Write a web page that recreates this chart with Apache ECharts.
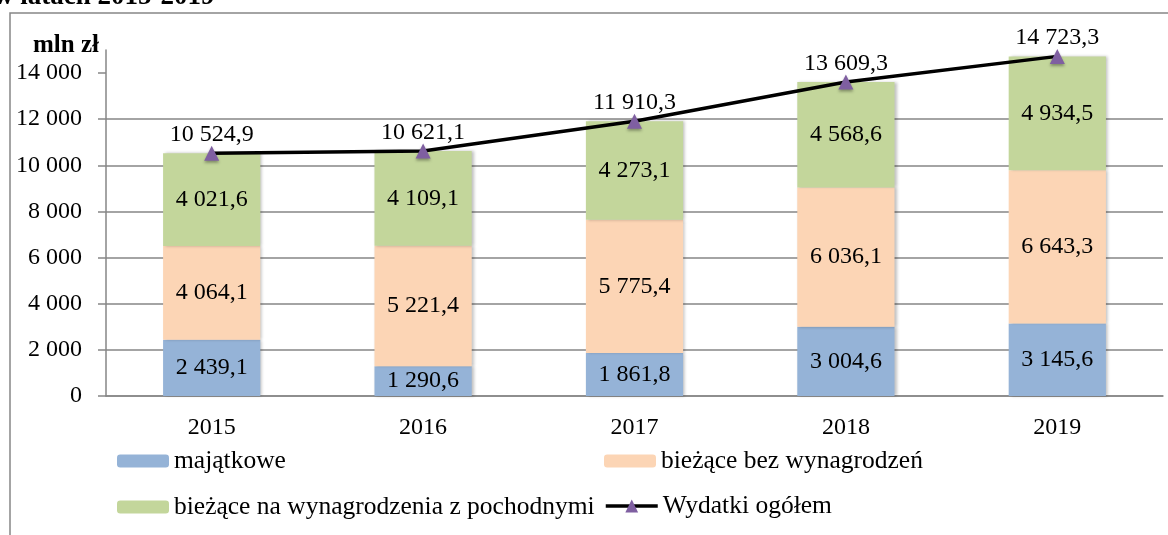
<!DOCTYPE html>
<html>
<head>
<meta charset="utf-8">
<script src="https://cdn.jsdelivr.net/npm/echarts@6/dist/echarts.min.js"></script>
<style>
  html, body { margin: 0; padding: 0; background: #fff; }
  #chart { width: 1168px; height: 535px; }
</style>
</head>
<body>
<div id="chart"></div>
<script>
// dane z wykresu (mln zł)
const lata = ['2015', '2016', '2017', '2018', '2019']
const majatkowe = [2439.1, 1290.6, 1861.8, 3004.6, 3145.6]
const biezaceBez = [4064.1, 5221.4, 5775.4, 6036.1, 6643.3]
const biezaceWyn = [4021.6, 4109.1, 4273.1, 4568.6, 4934.5]
const ogolem = [10524.9, 10621.1, 11910.3, 13609.3, 14723.3]
const yTicks = [0, 2000, 4000, 6000, 8000, 10000, 12000, 14000]

const FONT = 'Garamond, "Liberation Serif", "DejaVu Serif", serif'
const GREY = '#868686'

// 10524.9 -> "10 524,9"
function fmt(v, dec) {
  const s = v.toFixed(dec)
  const parts = s.split('.')
  const int = parts[0].replace(/\B(?=(\d{3})+(?!\d))/g, ' ')
  return parts.length > 1 ? int + ',' + parts[1] : int
}

const barShadow = {
  shadowBlur: 3,
  shadowColor: 'rgba(0,0,0,0.25)',
  shadowOffsetX: 2,
  shadowOffsetY: 0
}

const barLabel = {
  show: true,
  position: 'inside',
  color: '#000',
  fontFamily: FONT,
  fontSize: 24,
  formatter: p => fmt(p.value, 1)
}

const legendBase = {
  padding: 0,
  itemWidth: 52,
  itemHeight: 13,
  textStyle: { fontFamily: FONT, fontSize: 25.5, color: '#000' }
}

const chart = echarts.init(document.getElementById('chart'))
chart.setOption({
  animation: false,
  textStyle: { fontFamily: FONT },
  graphic: [
    {
      type: 'rect',
      shape: { x: 10, y: 13, width: 1200, height: 560 },
      style: { fill: 'none', stroke: GREY, lineWidth: 1.5 },
      silent: true
    },
    {
      type: 'text',
      style: {
        x: -6, y: -3,
        text: 'w latach 2015-2019',
        font: 'bold 27px ' + FONT,
        fill: '#000',
        verticalAlign: 'middle'
      }
    },
    {
      type: 'text',
      style: {
        x: 33, y: 46,
        text: 'mln zł',
        font: 'bold 25px ' + FONT,
        fill: '#000',
        verticalAlign: 'middle'
      }
    }
  ],
  legend: [
    Object.assign({ data: ['majątkowe'], left: 117, top: 448 }, legendBase),
    Object.assign({ data: ['bieżące bez wynagrodzeń'], left: 604, top: 448 }, legendBase),
    Object.assign({ data: ['bieżące na wynagrodzenia z pochodnymi'], left: 117, top: 494 }, legendBase),
    Object.assign({}, legendBase, {
      data: ['Wydatki ogółem'],
      left: 604,
      top: 493,
      itemHeight: 16,
      lineStyle: { width: 3.5, color: '#000' }
    })
  ],
  grid: {
    left: 106,
    right: 5,
    top: 50,
    bottom: 139
  },
  xAxis: {
    type: 'category',
    data: lata,
    axisLine: { lineStyle: { color: GREY, width: 1.5 } },
    axisTick: { length: 7, lineStyle: { color: GREY, width: 1.5 } },
    axisLabel: { color: '#000', fontSize: 24, fontFamily: FONT, margin: 20 }
  },
  yAxis: {
    type: 'value',
    min: 0,
    max: 15000,
    interval: 2000,
    axisLine: { show: true, lineStyle: { color: GREY, width: 1.5 } },
    axisTick: {
      show: true,
      length: 8,
      customValues: yTicks,
      lineStyle: { color: GREY, width: 1.5 }
    },
    axisLabel: {
      color: '#000',
      fontSize: 24,
      fontFamily: FONT,
      margin: 24,
      customValues: yTicks,
      formatter: v => fmt(v, 0)
    },
    splitLine: {
      show: true,
      showMaxLine: false,
      lineStyle: { color: GREY, width: 1.5 }
    }
  },
  series: [
    {
      name: 'majątkowe',
      type: 'bar',
      stack: 'wydatki',
      barWidth: '46%',
      data: majatkowe,
      itemStyle: Object.assign({ color: '#95B3D7' }, barShadow),
      label: barLabel
    },
    {
      name: 'bieżące bez wynagrodzeń',
      type: 'bar',
      stack: 'wydatki',
      data: biezaceBez,
      itemStyle: Object.assign({ color: '#FCD5B5' }, barShadow),
      label: barLabel
    },
    {
      name: 'bieżące na wynagrodzenia z pochodnymi',
      type: 'bar',
      stack: 'wydatki',
      data: biezaceWyn,
      itemStyle: Object.assign({ color: '#C3D69B' }, barShadow),
      label: barLabel
    },
    {
      name: 'Wydatki ogółem',
      type: 'line',
      data: ogolem,
      symbol: 'triangle',
      symbolSize: 15,
      z: 5,
      lineStyle: { color: '#000', width: 3.5 },
      itemStyle: {
        color: '#7F5FA1',
        shadowBlur: 3,
        shadowColor: 'rgba(0,0,0,0.35)',
        shadowOffsetY: 2
      },
      label: {
        show: true,
        position: 'top',
        distance: -1,
        color: '#000',
        fontFamily: FONT,
        fontSize: 24,
        formatter: p => fmt(p.value, 1)
      }
    }
  ]
})
</script>
</body>
</html>
